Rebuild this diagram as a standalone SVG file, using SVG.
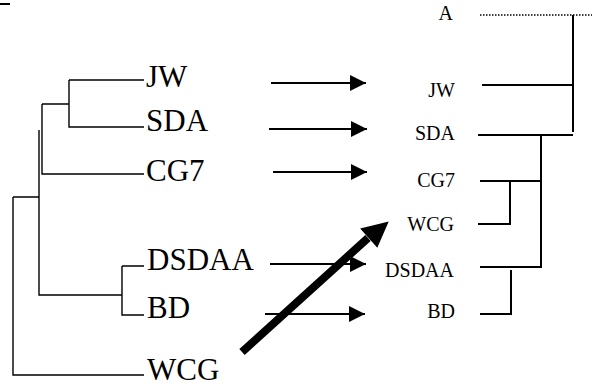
<svg xmlns="http://www.w3.org/2000/svg" width="592" height="386" viewBox="0 0 592 386">
<defs>
<style>
.t{stroke:#000;stroke-width:1.4;fill:none}
.r{stroke:#000;stroke-width:2;fill:none}
.big{font-family:"Liberation Serif",serif;font-size:31px;fill:#000}
.sm{font-family:"Liberation Serif",serif;font-size:20px;fill:#000;text-anchor:end}
.ar{stroke:#000;stroke-width:2.2;fill:none}
</style>
<marker id="ah" markerWidth="16" markerHeight="16" refX="16" refY="8" orient="auto" markerUnits="userSpaceOnUse">
<path d="M0,0 L16,8 L0,16 Z" fill="#000"/>
</marker>
</defs>
<rect width="592" height="386" fill="#fff"/>
<g id="left-tree">
<path class="r" d="M0,4 H10"/>
<path class="t" d="M69,80 H144 M69,80 V127 H144"/>
<path class="t" d="M42,104 H69 M42,104 V174 H144"/>
<path class="t" d="M39,130 V295 H122"/>
<path class="t" d="M122,266 H144 M122,266 V315 H144"/>
<path class="t" d="M13,197 H39 M13,197 V375 H144"/>
</g>
<g id="left-labels">
<text id="l-jw" class="big" x="146" y="87">JW</text>
<text id="l-sda" class="big" x="146" y="131">SDA</text>
<text id="l-cg7" class="big" x="146" y="181">CG7</text>
<text id="l-dsdaa" class="big" x="147" y="270">DSDAA</text>
<text id="l-bd" class="big" x="147" y="318">BD</text>
<text id="l-wcg" class="big" x="147" y="380">WCG</text>
</g>
<g id="right-tree">
<path class="t" d="M480,15 H592" stroke-dasharray="1.5,1.5"/>
<path class="r" d="M573,15 V132"/>
<path class="r" d="M482,85 H573"/>
<path class="r" d="M478,135 H573"/>
<path class="r" d="M541,135 V267 H480"/>
<path class="r" d="M480,181 H541"/>
<path class="r" d="M510,181 V224 H478"/>
<path class="r" d="M511,270 V314 H480"/>
</g>
<g id="right-labels">
<text id="r-a" class="sm" x="453" y="20">A</text>
<text id="r-jw" class="sm" x="455" y="97">JW</text>
<text id="r-sda" class="sm" x="455" y="140">SDA</text>
<text id="r-cg7" class="sm" x="455" y="187">CG7</text>
<text id="r-wcg" class="sm" x="454" y="231">WCG</text>
<text id="r-dsdaa" class="sm" x="454" y="277">DSDAA</text>
<text id="r-bd" class="sm" x="455" y="318">BD</text>
</g>
<g id="connectors">
<path class="ar" d="M271,83 H366" marker-end="url(#ah)"/>
<path class="ar" d="M269,129 H367" marker-end="url(#ah)"/>
<path class="ar" d="M273,172 H367" marker-end="url(#ah)"/>
<path class="ar" d="M270,264 H366" marker-end="url(#ah)"/>
<path class="ar" d="M265,314 H365" marker-end="url(#ah)"/>
<path d="M242,352 L368,238" stroke="#000" stroke-width="8" fill="none"/>
<path d="M387,223 L362,229 L377,246 Z" fill="#000" stroke="#000" stroke-width="2" stroke-linejoin="miter"/>
</g>
</svg>
